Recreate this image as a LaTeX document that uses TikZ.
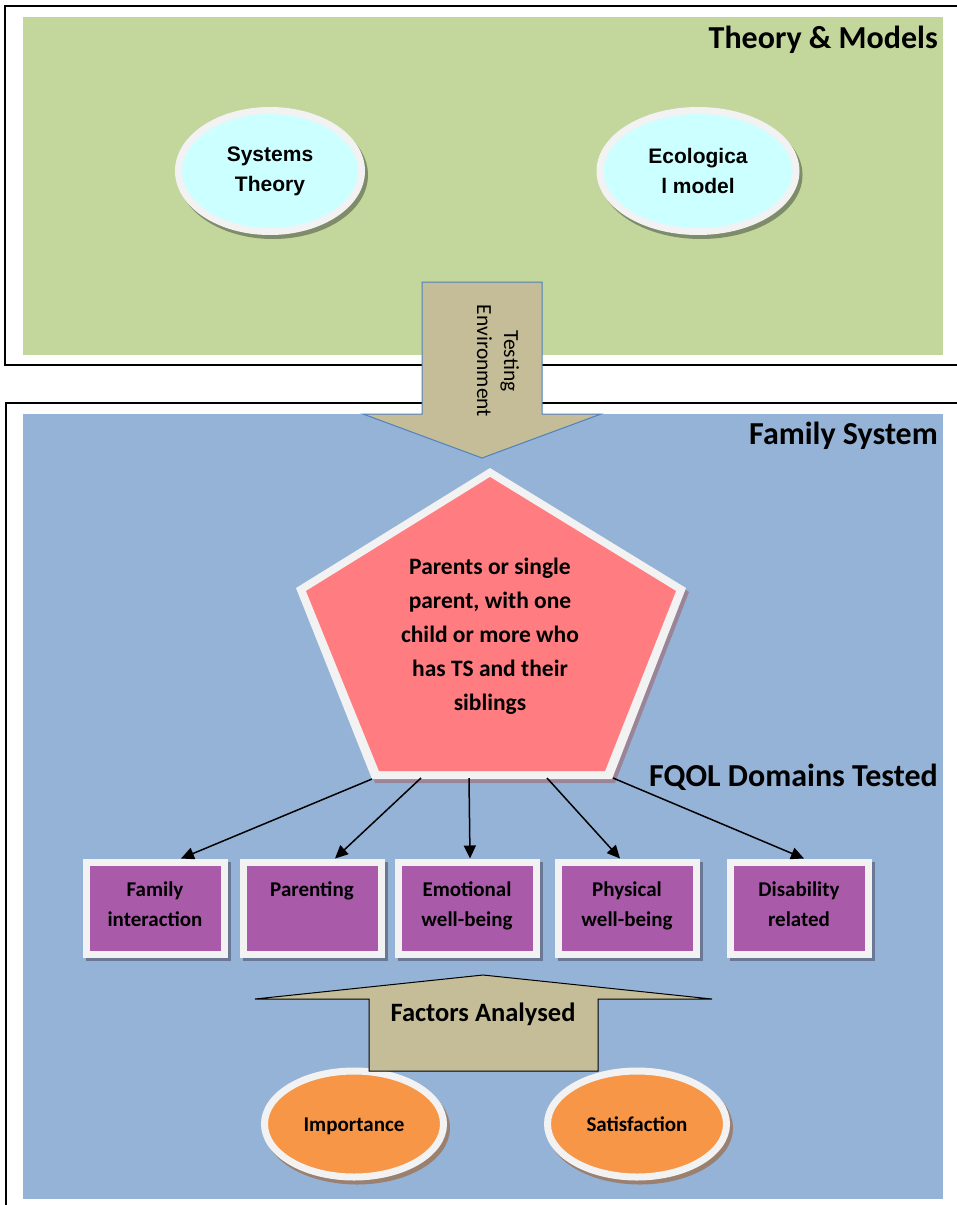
\documentclass[tikz,border=0pt]{standalone}
\usepackage{fontspec}
\setmainfont{Carlito}
\newfontfamily\arialfont{Liberation Sans}
\usetikzlibrary{shapes.geometric,arrows.meta,calc}
\definecolor{greenbg}{HTML}{C3D69B}
\definecolor{bluebg}{HTML}{95B3D7}
\definecolor{cyanfill}{HTML}{CCFFFF}
\definecolor{pinkfill}{HTML}{FF7C80}
\definecolor{purplefill}{HTML}{A95BAA}
\definecolor{tanfill}{HTML}{C4BD97}
\definecolor{orangefill}{HTML}{F79646}
\definecolor{ring}{HTML}{F2F2F2}
\definecolor{arrowblue}{HTML}{4F81BD}
\definecolor{shgreen}{HTML}{7F8C6A}
\definecolor{shblue}{HTML}{6A7896}
\definecolor{shpink}{HTML}{9A8498}
\definecolor{shorange}{HTML}{9A8070}
\tikzset{
  frame/.style={draw=black, line width=1.5pt},
  topoval/.style={ellipse, fill=cyanfill, draw=ring, line width=7pt, inner sep=0pt,
    minimum height=121pt, align=center,
    font=\arialfont\bfseries\fontsize{21}{30}\selectfont,
    preaction={fill=shgreen, draw=shgreen, line width=7pt, transform canvas={shift={(3pt,-4pt)}}}},
  botoval/.style={ellipse, fill=orangefill, draw=ring, line width=7pt, inner sep=0pt,
    minimum width=179pt, minimum height=106pt, text height=14pt, text depth=0pt,
    font=\bfseries\fontsize{21}{24}\selectfont,
    preaction={fill=shorange, draw=shorange, line width=7pt, transform canvas={shift={(3pt,-4pt)}}}},
  dombox/.style={rectangle, fill=purplefill, draw=ring, line width=7pt, inner sep=0pt,
    minimum width=138pt, minimum height=92pt,
    preaction={fill=shblue, draw=shblue, line width=7pt, transform canvas={shift={(3pt,-3pt)}}}},
  domtext/.style={anchor=north, inner sep=0pt, align=center,
    font=\bfseries\fontsize{21}{30}\selectfont},
  title/.style={anchor=base east, inner sep=0pt, font=\bfseries\fontsize{32}{36}\selectfont},
  conn/.style={draw=black, line width=1.5pt, -{Triangle[length=13pt,width=12pt]}},
  blockarrow/.style={fill=tanfill, line width=1pt, line join=miter},
}
\begin{document}
\begin{tikzpicture}[x=1pt, y=-1pt]
\useasboundingbox (0,0) rectangle (957,1205);
\clip (0,0) rectangle (957,1205);
% frames and backgrounds
\draw[frame] (5,6) rectangle (990,365);
\fill[greenbg] (23,17) rectangle (943,355);
\draw[frame] (6,403) rectangle (990,1240);
\fill[bluebg] (23,414) rectangle (943,1199);
% titles
\node[title] (t1) at (938,48) {Theory \& Models};
\node[title] (t2) at (938,444) {Family System};
\node[title] (t3) at (938,786) {FQOL Domains Tested};
% top ovals
\node[topoval, minimum width=183pt] (sys) at (270,171) {Systems\\Theory};
\node[topoval, minimum width=196pt] (eco) at (698,171) {Ecologica\\l model};
% pentagon
\fill[shpink] (493,472) -- (299,592) -- (375,783) -- (615,783) -- (689,592) -- cycle;
\fill[ring] (490,468) -- (296,588) -- (372,779) -- (612,779) -- (686,588) -- cycle;
\fill[pinkfill] (490,477) -- (306,591) -- (379,771) -- (605,771) -- (676,591) -- cycle;
\node[align=center, inner sep=0pt, font=\bfseries\fontsize{23.5}{34}\selectfont] (pent) at (490,636)
  {Parents or single\\parent, with one\\child or more who\\has TS and their\\siblings};
\coordinate (s1) at (372,779);
\coordinate (s2) at (421,778);
\coordinate (s3) at (469,778);
\coordinate (s4) at (547,778);
\coordinate (s5) at (613,778);
% domain boxes
\node[dombox] (d1) at (155,908) {};
\node[dombox] (d2) at (312,908) {};
\node[dombox] (d3) at (467,908) {};
\node[dombox] (d4) at (627,908) {};
\node[dombox] (d5) at (799,908) {};
\node[domtext] (l1) at (155,882) {Family\\interaction};
\node[domtext] (l2) at (312,882) {Parenting};
\node[domtext] (l3) at (467,882) {Emotional\\well-being};
\node[domtext] (l4) at (627,882) {Physical\\well-being};
\node[domtext] (l5) at (799,882) {Disability\\related};
% connectors
\draw[conn] (s1) -- ($(d1.north)+(26,0)$);
\draw[conn] (s2) -- ($(d2.north)+(23,0)$);
\draw[conn] (s3) -- ($(d3.north)+(3,0)$);
\draw[conn] (s4) -- ($(d4.north)+(-7,0)$);
\draw[conn] (s5) -- ($(d5.north)+(5,0)$);
% bottom ovals
\node[botoval] (imp) at (354,1124) {Importance};
\node[botoval] (sat) at (637,1124) {Satisfaction};
% factors arrow
\draw[blockarrow, draw=black] (255,999) -- (483,975) -- (712,999) -- (598,999) -- (598,1071)
  -- (369,1071) -- (369,999) -- cycle;
\node[inner sep=0pt, font=\bfseries\fontsize{26.5}{30}\selectfont] (fa) at (483,1014) {Factors Analysed};
% testing arrow
\draw[blockarrow, draw=arrowblue] (422,282) -- (542,282) -- (542,414) -- (601,414) -- (482,458)
  -- (363,414) -- (422,414) -- cycle;
\node[rotate=-90, align=center, inner sep=0pt, font=\fontsize{21.5}{27}\selectfont] (te) at (498,361)
  {Testing\\Environment};
\end{tikzpicture}
\end{document}
